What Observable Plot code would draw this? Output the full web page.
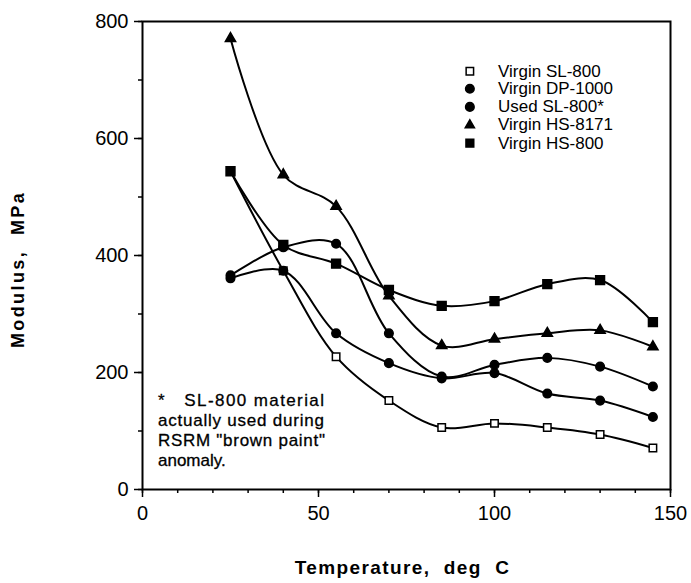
<!DOCTYPE html>
<html><head><meta charset="utf-8">
<script src="https://cdn.jsdelivr.net/npm/d3@7"></script>
<script src="https://cdn.jsdelivr.net/npm/@observablehq/plot@0.6"></script>
<style>body{margin:0;background:#fff} svg{display:block}</style>
</head><body><div id="chart"></div>
<script>
// Temperatures (deg C)
const temps = [25, 40, 55, 70, 85, 100, 115, 130, 145];
// Modulus values (MPa)
const virginSL800  = [544, 374, 227, 152, 106, 113, 106, 94, 71];
const virginDP1000 = [366, 414, 420, 267, 193, 213, 225, 210, 176];
const usedSL800    = [361, 374, 267, 216, 190, 199, 164, 152, 124];
const virginHS8171 = [771, 538, 484, 331, 246, 257, 267, 272, 244];
const virginHS800  = [544, 418, 386, 341, 314, 322, 351, 358, 286];

const seriesNames = ["Virgin SL-800", "Virgin DP-1000", "Used SL-800*", "Virgin HS-8171", "Virgin HS-800"];
const seriesValues = [virginSL800, virginDP1000, usedSL800, virginHS8171, virginHS800];
const seriesSymbols = ["square", "circle", "circle", "triangle", "square"];
const seriesFills = ["white", "black", "black", "black", "black"];
const seriesRadius = [4.2, 4.3, 4.3, 3.8, 5];
const legendRadius = [4.2, 4.3, 4.3, 3.4, 4.4];

// legend placement in data units
const legendX = 93, legendTextX = 101;
const legendY = [715, 685, 654, 623, 592];

// footnote text in data units
const noteX = 4.4;
const noteY = [152, 118, 83, 49];
const noteLines = ["*   SL-800 material", "actually used during", "RSRM \"brown paint\"", "anomaly."];
const noteJustify = [166, 166, 167, 0];

const xTitle = "Temperature,  deg  C";
const yTitle = "Modulus,  MPa";

const xMinor = d3.range(0, 151, 10);
const xMajor = [0, 50, 100, 150];
const yMinor = d3.range(0, 801, 100);
const yMajor = [0, 200, 400, 600, 800];

const rows = seriesNames.flatMap((name, s) =>
  temps.map((t, i) => ({series: name, s, t, v: seriesValues[s][i]})));
const legend = seriesNames.map((name, s) => ({name, s, x: legendX, tx: legendTextX, y: legendY[s]}));
const notes = noteLines.map((text, i) => ({text, x: noteX, y: noteY[i]}));

const font = '"Liberation Sans", Arial, Helvetica, sans-serif';

const chart = Plot.plot({
  width: 691, height: 583,
  marginLeft: 142, marginRight: 21, marginTop: 21, marginBottom: 94,
  style: {fontFamily: font, background: "#fff", color: "#000", overflow: "visible"},
  x: {domain: [0, 150], label: null},
  y: {domain: [0, 800], label: null},
  marks: [
    Plot.axisX({ticks: xMinor, tickSize: 4, tickFormat: () => "", label: null, strokeWidth: 1.5}),
    Plot.axisX({ticks: xMajor, tickSize: 8, tickPadding: 8, label: null, fontSize: 20, strokeWidth: 1.5}),
    Plot.axisY({ticks: yMinor, tickSize: 4, tickFormat: () => "", label: null, strokeWidth: 1.5}),
    Plot.axisY({ticks: yMajor, tickSize: 8, tickPadding: 6, label: null, fontSize: 20, strokeWidth: 1.5}),
    Plot.frame({stroke: "black", strokeWidth: 2}),
    Plot.line(rows, {x: "t", y: "v", z: "series", curve: "catmull-rom", stroke: "black", strokeWidth: 2}),
    ...seriesNames.map((name, s) => Plot.dot(rows.filter(d => d.s === s), {
      x: "t", y: "v", symbol: seriesSymbols[s], r: seriesRadius[s],
      fill: seriesFills[s], stroke: "black", strokeWidth: 1.5
    })),
    ...seriesNames.map((name, s) => Plot.dot(legend.filter(d => d.s === s), {
      x: "x", y: "y", symbol: seriesSymbols[s], r: legendRadius[s],
      fill: seriesFills[s], stroke: "black", strokeWidth: 1.5
    })),
    Plot.text(legend, {x: "tx", y: "y", text: "name", textAnchor: "start", fontSize: 17}),
    Plot.text(notes, {x: "x", y: "y", text: "text", textAnchor: "start", fontSize: 17,
      stroke: "black", strokeWidth: 0.3, fill: "black"}),
    Plot.text([xTitle], {frameAnchor: "bottom", textAnchor: "middle", lineAnchor: "middle",
      dx: -4, dy: 78, fontSize: 19, fontWeight: "bold"}),
    Plot.text([yTitle], {frameAnchor: "left", textAnchor: "middle", lineAnchor: "middle",
      dx: -124, dy: 14, rotate: -90, fontSize: 18, fontWeight: "bold"})
  ]
});
const svg = d3.select(chart);
svg.selectAll("text").style("white-space", "pre");
svg.selectAll("text").each(function() {
  const t = this.textContent;
  const sel = d3.select(this);
  if (t === xTitle) sel.style("letter-spacing", "1.4px");
  if (t === yTitle) sel.style("letter-spacing", "2.4px");
  const i = noteLines.indexOf(t);
  if (i >= 0 && noteJustify[i]) sel.attr("textLength", noteJustify[i]).attr("lengthAdjust", "spacing");
});
document.getElementById("chart").append(chart);
</script>
</body></html>
